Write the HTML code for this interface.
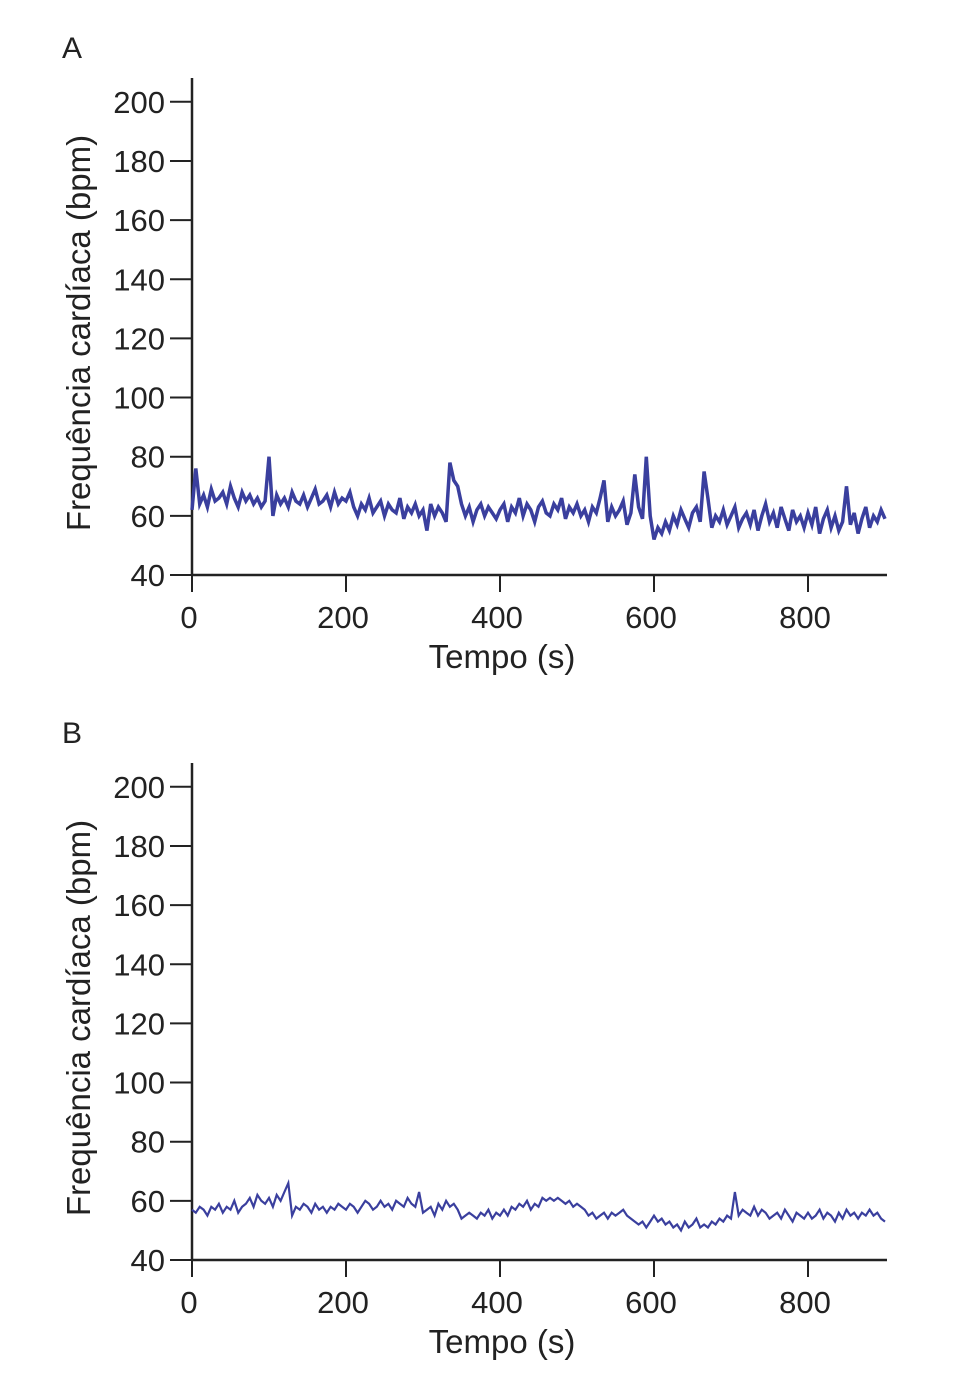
<!DOCTYPE html>
<html><head><meta charset="utf-8"><style>
body{margin:0;background:#fff;}
svg{display:block;font-family:"Liberation Sans",Arial,sans-serif;}
</style></head><body>
<svg id="chart" width="962" height="1379"></svg>
<script>
const yTicks=[40,60,80,100,120,140,160,180,200];
const xTicks=[0,200,400,600,800];
const xTitle="Tempo (s)";
const yTitle="Frequência cardíaca (bpm)";
const stepSec=5;
const seriesA=[62,76,64,67,63,69,65,66,68,64,70,66,63,68,65,67,64,66,63,65,
80,60,67,64,66,63,68,65,64,67,63,66,69,64,65,67,63,68,64,66,
65,68,63,60,64,62,66,61,63,65,60,64,62,61,66,59,63,61,64,60,
62,55,64,60,63,61,58,78,72,70,64,60,63,58,62,64,60,63,61,59,
62,64,58,63,61,66,60,64,62,58,63,65,61,60,64,62,66,59,63,61,
64,60,62,58,63,61,66,72,58,63,60,62,65,57,61,74,63,59,80,60,
52,56,54,58,55,60,57,62,59,56,61,63,58,75,66,56,60,58,62,57,
60,63,56,59,61,57,62,55,60,64,58,61,56,63,59,55,62,58,60,56,
61,57,63,54,59,62,56,60,55,58,70,57,61,54,59,63,56,60,58,62,59];
const seriesB=[57,56,58,57,55,58,57,59,56,58,57,60,56,58,59,61,58,62,60,59,
61,58,62,60,63,66,55,58,57,59,58,56,59,57,58,56,58,57,59,58,
57,59,58,56,58,60,59,57,58,60,58,59,57,60,59,58,61,59,58,63,
56,57,58,55,59,57,60,58,59,57,54,55,56,55,54,56,55,57,54,56,
55,57,55,58,57,59,58,60,57,59,58,61,60,61,60,61,60,59,60,58,
59,58,57,55,56,54,55,56,54,56,55,56,57,55,54,53,52,53,51,53,
55,53,54,52,53,51,52,50,53,51,52,54,51,52,51,53,52,54,53,55,
54,63,55,57,56,55,58,55,57,56,54,55,56,54,57,55,53,56,55,54,
56,54,55,57,54,56,55,53,56,54,57,55,56,54,56,55,57,55,56,54,53];

const NS="http://www.w3.org/2000/svg";
const svg=document.getElementById('chart');
function mk(tag,attrs,parent){const e=document.createElementNS(NS,tag);for(const k in attrs)e.setAttribute(k,attrs[k]);parent.appendChild(e);return e;}

function panel(letter,off,data,sw){
  const g=mk('g',{},svg);
  
  
  const x0=192, y0=575+off;
  const xs=t=>x0+t*0.77;
  const ys=v=>y0-(v-40)*2.9575;
  const lab=mk('text',{x:62,y:58+off,'font-size':30,fill:'#222'},g);
  lab.textContent=letter;
  
  
  const ya=mk('line',{x1:x0,y1:78+off,x2:x0,y2:y0+1,stroke:'#222','stroke-width':2.5},g);
  
  
  const xa=mk('line',{x1:x0-1,y1:y0,x2:887,y2:y0,stroke:'#222','stroke-width':2.5},g);
  
  
  yTicks.forEach(v=>{
    const y=ys(v);
    const tl=mk('line',{x1:170,y1:y,x2:x0,y2:y,stroke:'#222','stroke-width':2},g);
    
    
    const t=mk('text',{x:165,y:y+11,'font-size':31,fill:'#222','text-anchor':'end'},g);
    t.textContent=v;
    
    
  });
  xTicks.forEach(v=>{
    const x=xs(v);
    const tl=mk('line',{x1:x,y1:y0,x2:x,y2:y0+17,stroke:'#222','stroke-width':2},g);
    
    
    const t=mk('text',{x:x-3,y:y0+53,'font-size':31,fill:'#222','text-anchor':'middle'},g);
    t.textContent=v;
    
    
  });
  const xt=mk('text',{x:502,y:y0+93,'font-size':33,fill:'#222','text-anchor':'middle'},g);
  xt.textContent=xTitle;
  
  
  const yt=mk('text',{x:0,y:0,'font-size':33,fill:'#222','text-anchor':'middle',transform:`translate(90,${333+off}) rotate(-90)`},g);
  yt.textContent=yTitle;
  
  
  const pts=data.map((v,i)=>xs(i*stepSec).toFixed(1)+','+ys(v).toFixed(1)).join(' ');
  const pl=mk('polyline',{points:pts,fill:'none',stroke:'#3a3f9e','stroke-width':sw,'stroke-linejoin':'miter'},g);
  
  
}
panel('A',0,seriesA,3.5);
panel('B',685,seriesB,2.2);
</script>
</body></html>
